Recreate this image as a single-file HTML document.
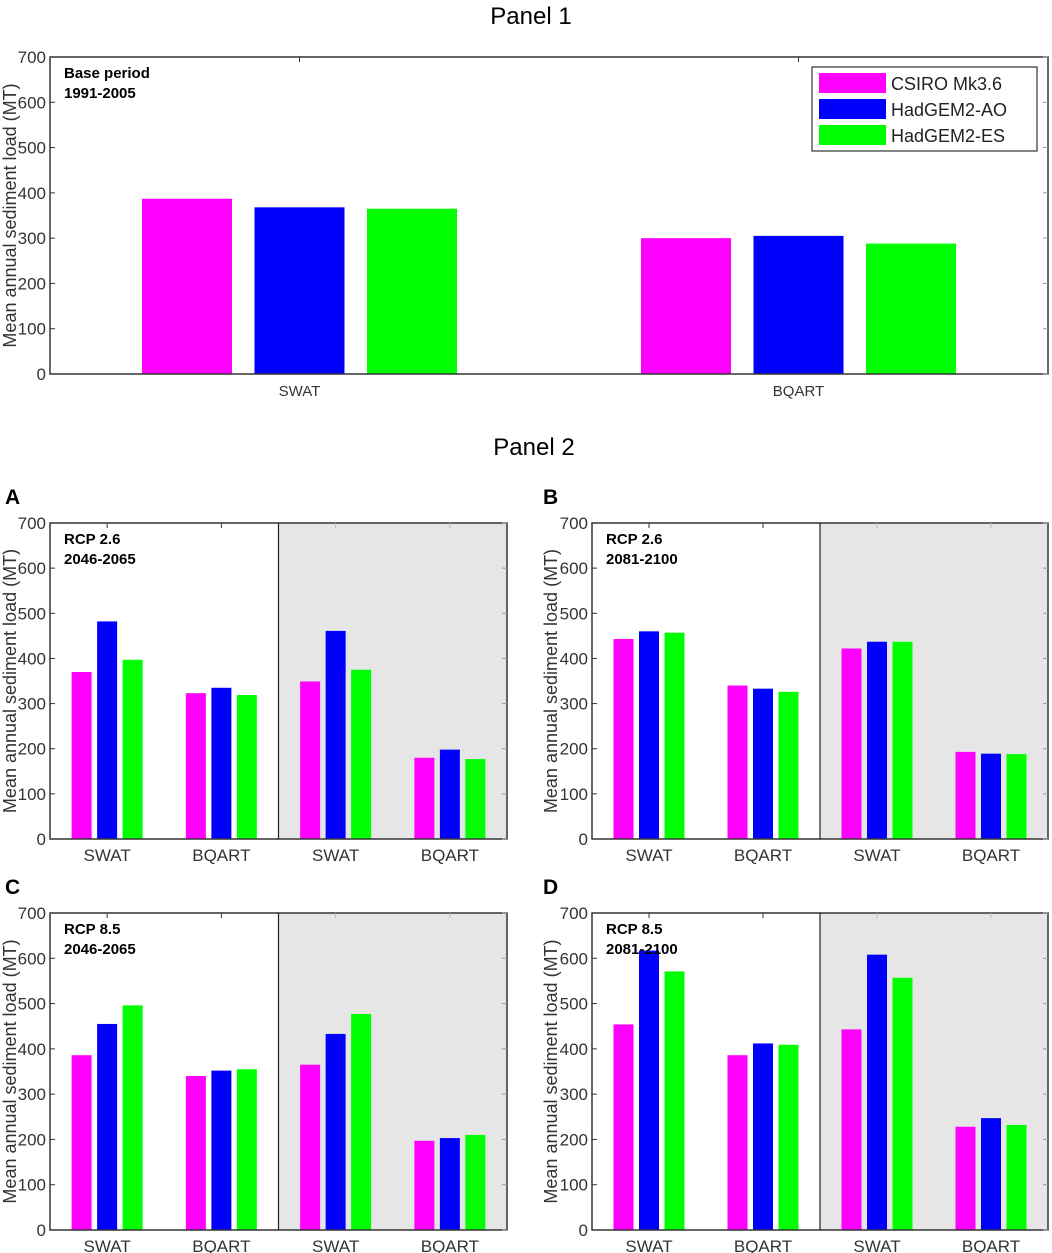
<!DOCTYPE html>
<html><head><meta charset="utf-8"><style>
html,body{margin:0;padding:0;background:#fff;}
svg{display:block;font-family:"Liberation Sans",Arial,sans-serif;}
</style></head><body>
<svg id="fig" width="1052" height="1253" viewBox="0 0 1052 1253">
<text x="531" y="24" font-size="24" text-anchor="middle">Panel 1</text>
<text x="534" y="455" font-size="24" text-anchor="middle">Panel 2</text>
</svg>
<script>
const models = ["CSIRO Mk3.6","HadGEM2-AO","HadGEM2-ES"];
const colors = ["#ff00ff","#0000ff","#00ff00"];
const yTicks = [0,100,200,300,400,500,600,700];
const p1Categories = ["SWAT","BQART"];
const p1Csiro = [387,300];
const p1HadAO = [368,305];
const p1HadES = [365,288];
const subCategories = ["SWAT","BQART","SWAT","BQART"];
const aCsiro = [370,323,349,180];
const aHadAO = [482,335,461,198];
const aHadES = [397,319,375,177];
const bCsiro = [443,340,422,193];
const bHadAO = [460,333,437,189];
const bHadES = [457,326,437,188];
const cCsiro = [386,340,365,197];
const cHadAO = [455,352,433,203];
const cHadES = [496,355,477,210];
const dCsiro = [454,386,443,228];
const dHadAO = [617,412,608,247];
const dHadES = [571,409,557,232];

const NS="http://www.w3.org/2000/svg";
const svg=document.getElementById('fig');
function mk(tag,attrs,parent,text){const e=document.createElementNS(NS,tag);for(const k in attrs)e.setAttribute(k,attrs[k]);if(text!==undefined)e.textContent=text;(parent||svg).appendChild(e);return e;}

function drawPanel(o){
  const g=mk('g',{});
  
  
  const ymax=700;
  const yS=v=>o.bottom-(v/ymax)*(o.bottom-o.top);
  const n=o.cats.length;
  const w=o.right-o.left;
  const xS=i=>o.left+w*(i+0.5)/n;
  if(o.shade){
    const sh=mk('rect',{x:(o.left+o.right)/2,y:o.top,width:w/2,height:o.bottom-o.top,fill:'#e6e6e6'},g);
    
    
  }
  const series=[o.s0,o.s1,o.s2];
  series.forEach((arr,si)=>{
    arr.forEach((v,i)=>{
      const cx=xS(i)+(si-1)*o.step;
      const r=mk('rect',{x:cx-o.bw/2,y:yS(v),width:o.bw,height:yS(0)-yS(v),fill:colors[si]},g);
      
      
    });
  });
  mk('rect',{x:o.left,y:o.top,width:w,height:o.bottom-o.top,fill:'none',stroke:'#333',"stroke-width":1.5},g);
  if(o.shade) mk('line',{x1:(o.left+o.right)/2,y1:o.top,x2:(o.left+o.right)/2,y2:o.bottom,stroke:'#222',"stroke-width":1.2},g);
  yTicks.forEach(t=>{
    const y=yS(t);
    mk('line',{x1:o.left,y1:y,x2:o.left+5,y2:y,stroke:'#333'},g);
    mk('line',{x1:o.right,y1:y,x2:o.right-5,y2:y,stroke:'#999'},g);
    const tl=mk('text',{x:o.left-4,y:y+6,"font-size":17,"text-anchor":"end",fill:'#333'},g,String(t));
    
    
  });
  o.cats.forEach((c,i)=>{
    const x=xS(i);
    mk('line',{x1:x,y1:o.top,x2:x,y2:o.top+5,stroke:i>=n/2&&o.shade?'#bbb':'#333'},g);
    const xl=mk('text',{x:x,y:o.bottom+22,"font-size":o.xfs,"text-anchor":"middle",fill:'#333'},g,c);
    
    
  });
  const cy=(o.top+o.bottom)/2;
  const yt=mk('text',{x:o.yTitleX,y:cy,"font-size":18,"text-anchor":"middle",fill:'#333',transform:`rotate(-90 ${o.yTitleX} ${cy})`},g,'Mean annual sediment load (MT)');
  
  
  const a1=mk('text',{x:o.left+14,y:o.top+21,"font-size":15,"font-weight":"bold"},g,o.ann1);
  
  
  const a2=mk('text',{x:o.left+14,y:o.top+41,"font-size":15,"font-weight":"bold"},g,o.ann2);
  
  
  if(o.letter){
    const lt=mk('text',{x:o.letterX,y:o.top-19,"font-size":21,"font-weight":"bold"},g,o.letter);
    
    
  }
}

drawPanel({name:'panel-1-chart',left:50,right:1048,top:57,bottom:374,cats:p1Categories,s0:p1Csiro,s1:p1HadAO,s2:p1HadES,bw:90,step:112.5,xfs:15,yTitleX:16,ann1:'Base period',ann2:'1991-2005',shade:false});
drawPanel({name:'panel-a-chart',left:50,right:507,top:523,bottom:839,cats:subCategories,s0:aCsiro,s1:aHadAO,s2:aHadES,bw:20,step:25.5,xfs:17,yTitleX:16,ann1:'RCP 2.6',ann2:'2046-2065',shade:true,letter:'A',letterX:5});
drawPanel({name:'panel-b-chart',left:592,right:1048,top:523,bottom:839,cats:subCategories,s0:bCsiro,s1:bHadAO,s2:bHadES,bw:20,step:25.5,xfs:17,yTitleX:557,ann1:'RCP 2.6',ann2:'2081-2100',shade:true,letter:'B',letterX:543});
drawPanel({name:'panel-c-chart',left:50,right:507,top:913,bottom:1230,cats:subCategories,s0:cCsiro,s1:cHadAO,s2:cHadES,bw:20,step:25.5,xfs:17,yTitleX:16,ann1:'RCP 8.5',ann2:'2046-2065',shade:true,letter:'C',letterX:5});
drawPanel({name:'panel-d-chart',left:592,right:1048,top:913,bottom:1230,cats:subCategories,s0:dCsiro,s1:dHadAO,s2:dHadES,bw:20,step:25.5,xfs:17,yTitleX:557,ann1:'RCP 8.5',ann2:'2081-2100',shade:true,letter:'D',letterX:543});

const lg=mk('g',{});


mk('rect',{x:812,y:67,width:225,height:84,fill:'#fff',stroke:'#333',"stroke-width":1.2},lg);
models.forEach((m,i)=>{
  const y=83+i*26;
  const p=mk('rect',{x:819,y:y-10,width:67,height:20,fill:colors[i]},lg);
  
  
  const t=mk('text',{x:891,y:y+7,"font-size":18,fill:'#222'},lg,m);
  
  
});
</script>
</body></html>
